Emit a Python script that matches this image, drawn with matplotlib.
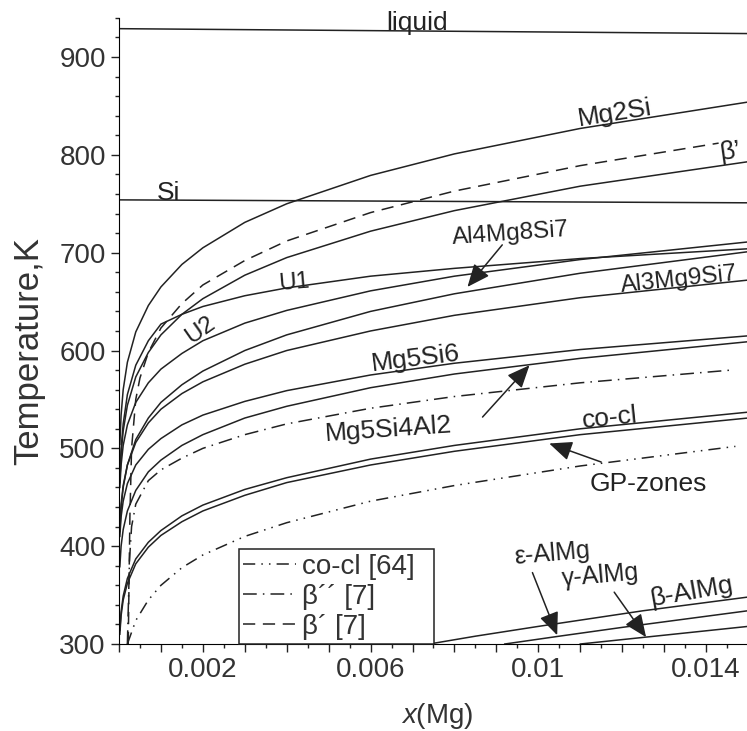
import matplotlib.pyplot as plt
from matplotlib.ticker import MultipleLocator, FuncFormatter

plt.rcParams['font.family'] = ['Liberation Sans', 'DejaVu Sans']
plt.rcParams['mathtext.fontset'] = 'custom'
plt.rcParams['mathtext.it'] = 'Liberation Sans:italic'
plt.rcParams['mathtext.rm'] = 'Liberation Sans'

# common x grid (mole fraction of Mg) for the solvus curves
x_grid = [0.00002, 0.00005, 0.0001, 0.0002, 0.0004, 0.0007, 0.001, 0.0015,
          0.002, 0.003, 0.004, 0.006, 0.008, 0.011, 0.015]

T_mg2si = [504, 534, 560, 588, 619, 646, 665, 688, 705, 731, 750, 779, 801, 827, 854]
T_betap = [466, 494, 518, 544, 573, 598, 616, 637, 653, 677, 695, 722, 743, 768, 793]
T_u1 = [465, 500, 525, 555, 585, 610, 627, 637, 645, 656, 664, 676, 684, 694, 704]
T_u2 = [460, 483, 503, 524, 547, 567, 581, 597, 610, 628, 641, 661, 676, 693, 711]
T_al4 = [415, 439, 460, 483, 509, 531, 547, 565, 579, 600, 616, 640, 658, 679, 701]
T_al3 = [420, 443, 462, 483, 506, 526, 540, 556, 568, 586, 600, 620, 636, 654, 672]
T_mg5si6 = [410, 430, 446, 464, 483, 499, 510, 524, 534, 548, 559, 575, 587, 601, 615]
T_mg5si4al2 = [379, 400, 417, 436, 457, 476, 488, 503, 514, 531, 543, 562, 576, 592, 609]
T_cocl = [314, 333, 349, 367, 387, 404, 416, 431, 442, 458, 470, 489, 503, 520, 537]
T_gp = [310, 329, 345, 362, 382, 399, 411, 425, 436, 452, 465, 483, 497, 514, 531]

# literature curves (they drop to the axis at small x)
x_betap_ref = [0.00022, 0.00026, 0.0003, 0.0004, 0.0005, 0.0007, 0.001, 0.0015,
               0.002, 0.003, 0.004, 0.006, 0.008, 0.011, 0.0143]
T_betap_ref = [300, 430, 500, 550, 572, 598, 623, 648, 667, 692, 712, 741, 763, 789, 812]
x_betapp_ref = [0.0002, 0.00025, 0.0003, 0.0004, 0.0007, 0.001, 0.0015,
                0.002, 0.003, 0.004, 0.006, 0.008, 0.011, 0.0146]
T_betapp_ref = [300, 385, 420, 443, 467, 478, 490, 500, 514, 525, 541, 553, 567, 580]
x_cocl_ref = [0.0002, 0.0004, 0.0007, 0.001, 0.0015, 0.002, 0.003,
              0.004, 0.006, 0.008, 0.011, 0.0147]
T_cocl_ref = [300, 324, 345, 360, 378, 391, 410, 424, 446, 462, 482, 502]

# Al-Mg phases
x_beta_almg = [0.0074, 0.0085, 0.010, 0.0125, 0.015]
T_beta_almg = [300, 308, 318, 334, 348]
x_eps_almg = [0.0092, 0.0105, 0.012, 0.015]
T_eps_almg = [300, 308, 317, 334]
x_gam_almg = [0.011, 0.013, 0.015]
T_gam_almg = [300, 309, 318]

# horizontal lines
x_flat = [0.0, 0.015]
T_liquid = [929, 924]
T_si = [754, 751]

fig = plt.figure(figsize=(7.47, 7.31), dpi=100)
ax = fig.add_axes([0.1593, 0.119, 0.842, 0.8565])

lw = 1.1
kw = dict(color='#222222', lw=lw)
ax.plot(x_flat, T_liquid, **kw)
ax.plot(x_flat, T_si, **kw)
for T in [T_mg2si, T_betap, T_u1, T_u2, T_al4, T_al3, T_mg5si6,
          T_mg5si4al2, T_cocl, T_gp]:
    ax.plot(x_grid, T, **kw)
for xs, T in [(x_beta_almg, T_beta_almg), (x_eps_almg, T_eps_almg),
              (x_gam_almg, T_gam_almg)]:
    ax.plot(xs, T, **kw)

h_cocl, = ax.plot(x_cocl_ref, T_cocl_ref, color='#222222', lw=lw,
                  linestyle=(0, (8, 4, 1, 4, 1, 4)), label='co-cl [64]  ')
h_bpp, = ax.plot(x_betapp_ref, T_betapp_ref, color='#222222', lw=lw,
                 linestyle=(0, (9, 4, 1, 4)), label='β´´ [7]')
h_bp, = ax.plot(x_betap_ref, T_betap_ref, color='#222222', lw=lw,
                linestyle=(0, (8, 5)), label='β´ [7]')

ax.set_xlim(0, 0.015)
ax.set_ylim(300, 940)
ax.spines['top'].set_visible(False)
ax.spines['right'].set_visible(False)

ax.yaxis.set_major_locator(MultipleLocator(100))
ax.yaxis.set_minor_locator(MultipleLocator(20))
ax.xaxis.set_major_locator(MultipleLocator(0.001))
ax.xaxis.set_minor_locator(MultipleLocator(0.0005))
x_labels = {2: '0.002', 6: '0.006', 10: '0.01', 14: '0.014'}
ax.xaxis.set_major_formatter(FuncFormatter(lambda v, p: x_labels.get(int(round(v * 1000)), '')))
ax.tick_params(axis='both', which='major', direction='out', length=6, width=1,
               labelsize=20, colors='#222222', labelcolor='#333333')
ax.tick_params(axis='both', which='minor', direction='out', length=3, width=1,
               colors='#222222')

ax.set_ylabel('Temperature,K', fontsize=25, color='#333333')
ax.yaxis.set_label_coords(-0.118, 0.468)
ax.set_xlabel('$x$(Mg)', fontsize=20, color='#333333')
ax.xaxis.set_label_coords(0.5056, -0.091)

tc = '#222222'
def label(x, y, s, rot=0, size=19):
    ax.text(x, y, s, rotation=rot, rotation_mode='anchor', ha='center',
            va='center', fontsize=size, color=tc)

ax.text(0.0071, 928, 'liquid', ha='center', va='baseline', fontsize=19, color=tc)
ax.text(0.00117, 754, 'Si', ha='center', va='baseline', fontsize=19, color=tc)
label(0.01183, 842, 'Mg2Si', 9)
label(0.01457, 803, 'β’', 8)
label(0.00933, 719, 'Al4Mg8Si7', 4, 17.5)
label(0.00417, 669, 'U1', 5, 17.5)
label(0.00193, 621, 'U2', 35, 17.5)
label(0.01336, 672, 'Al3Mg9Si7', 6, 17.5)
label(0.00707, 592, 'Mg5Si6', 7)
label(0.00643, 519, 'Mg5Si4Al2', 4)
label(0.01171, 531, 'co-cl', 6)
label(0.01262, 464, 'GP-zones', 0)
label(0.01033, 392, 'ε-AlMg', 5, 18)
label(0.01148, 370, 'γ-AlMg', 5, 18)
label(0.01364, 353, 'β-AlMg', 10)

arrow = dict(arrowstyle='-|>,head_length=0.7,head_width=0.3', color='#222222',
             lw=1.1, mutation_scale=20, shrinkA=0, shrinkB=0)
for tail, head in [((0.00914, 708), (0.00831, 665)),
                   ((0.00867, 532), (0.00979, 585)),
                   ((0.0115, 486), (0.01026, 505)),
                   ((0.00986, 373), (0.01045, 309)),
                   ((0.01181, 353), (0.01257, 307))]:
    ax.annotate('', xy=head, xytext=tail, arrowprops=arrow)

leg = ax.legend(handles=[h_cocl, h_bpp, h_bp], loc='lower left',
                bbox_to_anchor=(0.191, 0.0), borderaxespad=0, fancybox=False,
                edgecolor='#222222', framealpha=1, fontsize=20,
                handlelength=1.9, handletextpad=0.2, labelspacing=0.15,
                borderpad=0.15)
leg.get_frame().set_linewidth(1.1)
for t in leg.get_texts():
    t.set_color('#333333')

fig.savefig('out.png', dpi=100)
